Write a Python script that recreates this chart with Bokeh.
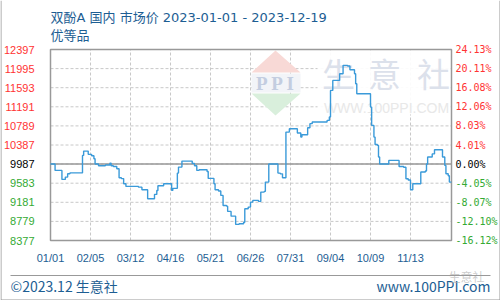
from bokeh.plotting import figure
from bokeh.models import Range1d
from bokeh.core.properties import value
from bokeh.embed import file_html
from bokeh.resources import INLINE

# ---------------- data ----------------
# x = day index of the daily series (0 = 2023-01-01), price changes (step series)
day_index = [0, 4, 10, 13, 15, 17, 28, 29, 33, 36, 38, 39, 42, 48, 52, 53, 55, 58,
             60, 62, 64, 66, 77, 80, 85, 91, 93, 94, 99, 106, 107, 111, 112, 115,
             124, 126, 128, 130, 137, 138, 143, 144, 147, 149, 151, 154, 155, 158,
             162, 165, 169, 170, 173, 175, 177, 182, 184, 187, 188, 191, 199, 201,
             203, 206, 209, 216, 219, 220, 225, 227, 229, 242, 244, 245, 247, 253,
             256, 260, 262, 266, 267, 268, 280, 281, 283, 284, 286, 287, 288, 296,
             305, 309, 311, 313, 315, 317, 324, 328, 329, 330, 334, 336, 343, 345,
             346, 348, 349, 350.8]
price = [9987, 9852, 9663, 9711, 9783, 9800, 10168, 10259, 10190, 10160, 10099, 9987,
         9950, 9965, 10006, 9950, 9936, 9888, 9698, 9680, 9572, 9516, 9500, 9446,
         9257, 9347, 9430, 9530, 9572, 9431, 9475, 9796, 9922, 10048, 10000, 9950,
         9852, 9866, 9830, 9684, 9572, 9446, 9420, 9326, 9115, 9100, 8989, 8890,
         8716, 8730, 8760, 9046, 9080, 9185, 9221, 9200, 9396, 9410, 9606, 9987,
         9796, 9780, 9698, 10659, 10730, 10638, 10553, 10604, 10751, 10836, 10870,
         10905, 10976, 11536, 11747, 11888, 12063, 12050, 11972, 11888, 11676, 11466,
         11185, 10800, 10553, 10399, 10380, 10133, 9987, 10063, 9936, 9920, 9678,
         9650, 9446, 9572, 9818, 9840, 9987, 10133, 10200, 10288, 10133, 9958, 9783,
         9740, 9606, 9606]

y_ticks = [12397, 11995, 11593, 11191, 10789, 10387, 9987, 9583, 9181, 8779, 8377]
y_tick_labels = ["12397", "11995", "11593", "11191", "10789", "10387", "9987",
                 "9583", "9181", "8779", "8377"]
pct_labels = ["24.13%", "20.11%", "16.08%", "12.06%", "8.03%", "4.01%", "0.00%",
              "-4.05%", "-8.07%", "-12.10%", "-16.12%"]
x_ticks = [0, 35, 70, 105, 140, 175, 210, 245, 280, 315]
x_tick_labels = ["01/01", "02/05", "03/12", "04/16", "05/21", "06/26", "07/31",
                 "09/04", "10/09", "11/13"]
base_price = 9987
title_text = "双酚A 国内 市场价 2023-01-01 - 2023-12-19"
subtitle_text = "优等品"

# ---------------- layout helpers ----------------
W, H = 500, 300
FL, FR, FT, FB = 50, 451, 49, 240          # inner chart box, in pixels
XMIN = 0
XMAX = (FR - FL) * 35 / 40
YMIN, YMAX = y_ticks[-1], y_ticks[0]


def dx(px):
    return XMIN + (px - FL) * (XMAX - XMIN) / (FR - FL)


def dy(py):
    return YMAX - (py - FT) * (YMAX - YMIN) / (FB - FT)


BLUE = "#1d5e93"
RED = "#ff3333"
GREEN = "#33aa33"
MIXED_FONT = value("DejaVu Sans, Noto Sans CJK SC")

# the plotting frame covers the whole canvas; the chart box sits inside it
p = figure(width=W, height=H, output_backend="svg", toolbar_location=None,
           x_range=Range1d(dx(0), dx(W)), y_range=Range1d(dy(H), dy(0)),
           min_border=0)
p.axis.visible = False
p.grid.visible = False
p.outline_line_color = None
p.background_fill_color = "white"
p.border_fill_color = "white"

# ---------------- grid ----------------
p.segment(x0=x_ticks[1:], x1=x_ticks[1:], y0=[YMIN] * (len(x_ticks) - 1),
          y1=[YMAX] * (len(x_ticks) - 1), line_color="#c8c8c8", line_dash="3 2",
          line_width=1)
p.segment(x0=[XMIN] * len(y_ticks), x1=[XMAX] * len(y_ticks), y0=y_ticks, y1=y_ticks,
          line_color="#c8c8c8", line_dash="3 2", line_width=1)

# ---------------- watermark ----------------
p.quad(left=[dx(317)], right=[dx(450)], top=[dy(50)], bottom=[dy(114)],
       fill_color="white", fill_alpha=0.92, line_color=None)
p.patch([dx(251), dx(275), dx(300)], [dy(72), dy(50), dy(72)],
        fill_color="#f8d9d6", line_color=None)
p.quad(left=[dx(251)], right=[dx(300)], top=[dy(73)], bottom=[dy(92)],
       fill_color="#f2f4f8", line_color=None)
p.patch([dx(251), dx(275), dx(300)], [dy(93), dy(115), dy(93)],
        fill_color="#d9efdc", line_color=None)
p.text(x=[dx(275.5)], y=[dy(83)], text=["P P I"], text_font=value("Liberation Serif"),
       text_font_style="bold", text_font_size="19px", text_color="#c3cde0",
       text_align="center", text_baseline="middle")
p.text(x=[dx(338), dx(384), dx(433)], y=[dy(72)] * 3, text=["生", "意", "社"],
       text_font=value("Noto Sans CJK SC"), text_font_size="33px",
       text_color="#dce1eb", text_align="center", text_baseline="middle")
p.text(x=[dx(386)], y=[dy(107)], text=["WWW.100PPI.COM"],
       text_font=value("Liberation Sans"), text_font_size="14px",
       text_color="#e8e8e8", text_align="center", text_baseline="middle")

# baseline at the start price, and the chart box
p.line([XMIN, XMAX], [base_price, base_price], line_color="#999999", line_width=1.5)
p.quad(left=[XMIN], right=[XMAX], bottom=[YMIN], top=[YMAX], fill_color=None,
       line_color="#999999", line_width=1.5)

# ---------------- data line ----------------
p.step(day_index, price, mode="after", line_color="#3a9ad9", line_width=1.4)

# ---------------- tick labels (coloured per tick) ----------------
colors = [RED if v > base_price else (GREEN if v < base_price else "black") for v in y_ticks]
p.text(x=[dx(34)] * len(y_ticks), y=y_ticks, text=y_tick_labels, text_color=colors,
       text_align="right", text_baseline="middle",
       text_font=value("Liberation Sans"), text_font_size="11px")
p.text(x=[dx(455)] * len(y_ticks), y=y_ticks, text=pct_labels, text_color=colors,
       text_align="left", text_baseline="middle",
       text_font=value("DejaVu Sans Mono"), text_font_size="10px")
p.text(x=x_ticks, y=[dy(257)] * len(x_ticks), text=x_tick_labels, text_color=BLUE,
       text_align="center", text_baseline="middle",
       text_font=value("Liberation Sans"), text_font_size="11px")

# ---------------- titles and footer ----------------
p.text(x=[dx(50), dx(50)], y=[dy(16.5), dy(35)], text=[title_text, subtitle_text],
       text_color=BLUE, text_font=MIXED_FONT, text_font_size="13px",
       text_baseline="middle", text_align="left")
p.text(x=[dx(10)], y=[dy(285)], text=["©2023.12 生意社"], text_color=BLUE,
       text_font=value("Noto Sans CJK SC"), text_font_size="14px",
       text_baseline="middle", text_align="left")
p.text(x=[dx(490)], y=[dy(285)], text=["www.100PPI.com"], text_color=BLUE,
       text_font=value("Noto Sans CJK SC"), text_font_size="14px",
       text_baseline="middle", text_align="right")
p.text(x=[dx(466)], y=[dy(276)], text=["生意社"], text_color="#aaaaaa",
       text_alpha=0.6, text_font=value("Noto Sans CJK SC"), text_font_size="12px",
       text_baseline="middle", text_align="center")

# footer separator and outer border
p.segment(x0=[dx(10)], x1=[dx(490)], y0=[dy(275)], y1=[dy(275)],
          line_color="#999999", line_width=1)
p.multi_line(xs=[[dx(0.5), dx(0.5), dx(499.5), dx(499.5)]],
             ys=[[dy(0), dy(299.5), dy(299.5), dy(0)]],
             line_color="#999999", line_width=1)

open("out.html", "w").write(file_html(p, INLINE))
